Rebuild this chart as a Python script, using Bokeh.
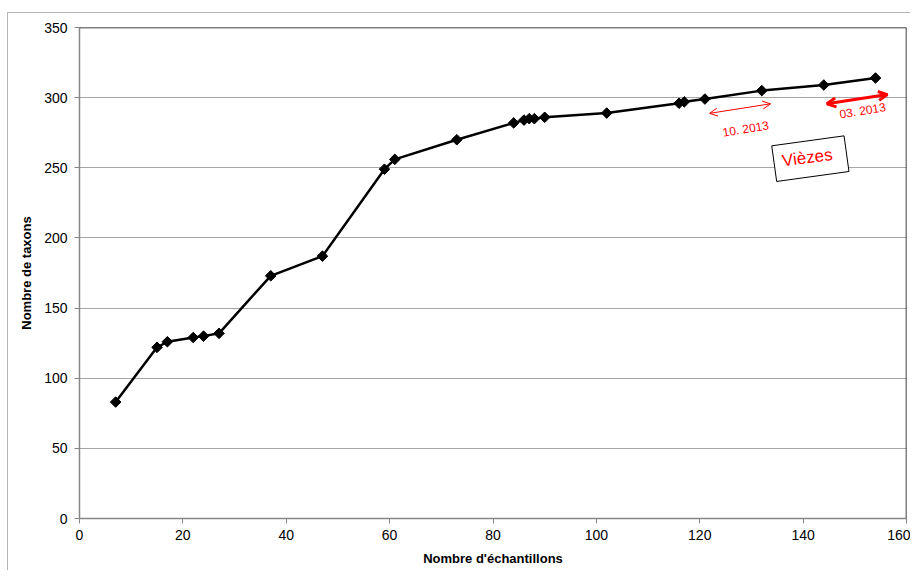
import math
from bokeh.plotting import figure
from bokeh.models import Range1d, Span, Arrow, OpenHead, FixedTicker
from bokeh.core.properties import value
from bokeh.embed import file_html
from bokeh.resources import INLINE

# Data: number of samples vs cumulative number of taxa
samples = [7, 15, 17, 22, 24, 27, 37, 47, 59, 61, 73, 84, 86, 87, 88, 90, 102, 116, 117, 121, 132, 144, 154]
taxa = [83, 122, 126, 129, 130, 132, 173, 187, 249, 256, 270, 282, 284, 285, 285, 286, 289, 296, 297, 299, 305, 309, 314]

x_ticks = [0, 20, 40, 60, 80, 100, 120, 140, 160]
y_ticks = [0, 50, 100, 150, 200, 250, 300, 350]

x_title = "Nombre d'échantillons"
y_title = "Nombre de taxons"
label_oct = "10. 2013"
label_mar = "03. 2013"
label_site = "Vièzes"

FONT = "Liberation Sans"

p = figure(width=903, height=558, output_backend="svg", toolbar_location=None,
           x_range=Range1d(0, 160), y_range=Range1d(0, 350),
           min_border_left=71, min_border_right=5, min_border_top=14, min_border_bottom=53)
p.margin = (12, 0, 0, 7)
p.styles = {"border-left": "1px solid #b4b4b4", "border-top": "1px solid #b4b4b4"}

p.outline_line_color = None
p.background_fill_color = "white"
p.border_fill_color = "white"

p.xgrid.visible = False
p.ygrid.grid_line_color = "#a6a6a6"
p.ygrid.grid_line_width = 1

for ax in (p.xaxis, p.yaxis):
    ax.axis_line_color = "#868686"
    ax.axis_line_width = 1.5
    ax.major_tick_line_color = "#868686"
    ax.major_tick_out = 5
    ax.major_tick_in = 0
    ax.minor_tick_line_color = None
    ax.major_label_text_font = FONT
    ax.major_label_text_font_size = "14px"
    ax.major_label_text_color = "black"
    ax.axis_label_text_font = FONT
    ax.axis_label_text_font_size = "13px"
    ax.axis_label_text_font_style = "bold"
    ax.axis_label_text_color = "black"

p.xaxis.ticker = FixedTicker(ticks=x_ticks)
p.yaxis.ticker = FixedTicker(ticks=y_ticks)
p.xaxis.axis_label = x_title
p.yaxis.axis_label = y_title
p.xaxis.major_label_standoff = 6
p.yaxis.major_label_standoff = 7
p.xaxis.axis_label_standoff = 8
p.yaxis.axis_label_standoff = 7

# black top & right frame
p.add_layout(Span(location=350, dimension="width", line_color="black", line_width=1.5))
p.add_layout(Span(location=160, dimension="height", line_color="black", line_width=1.5))

p.line(samples, taxa, line_color="black", line_width=2.5)
p.scatter(samples, taxa, marker="square", angle=math.pi / 4, size=7.5,
          fill_color="black", line_color="black")

# annotations
p.add_layout(Arrow(start=OpenHead(size=8, line_color="red", line_width=1),
                   end=OpenHead(size=8, line_color="red", line_width=1),
                   x_start=121.9, y_start=288.8, x_end=133.7, y_end=295.6,
                   line_color="red", line_width=1))
p.add_layout(Arrow(start=OpenHead(size=9, line_color="red", line_width=3),
                   end=OpenHead(size=9, line_color="red", line_width=3),
                   x_start=144.6, y_start=295.6, x_end=156.3, y_end=302.2,
                   line_color="red", line_width=3))

p.text(x=[128.9], y=[277.6], text=[label_oct], angle=0.16, text_align="center",
       text_baseline="middle", text_color="red", text_font=value(FONT), text_font_size="12px")
p.text(x=[151.5], y=[290.6], text=[label_mar], angle=0.16, text_align="center",
       text_baseline="middle", text_color="red", text_font=value(FONT), text_font_size="12px")

p.rect(x=[141.4], y=[256.5], width=73, height=36, width_units="screen", height_units="screen",
       angle=0.137, fill_color="white", line_color="black", line_width=1)
p.text(x=[140.8], y=[257.2], text=[label_site], angle=0.13, text_align="center",
       text_baseline="middle", text_color="red", text_font=value(FONT), text_font_size="17px")

open("out.html", "w").write(file_html(p, INLINE))
